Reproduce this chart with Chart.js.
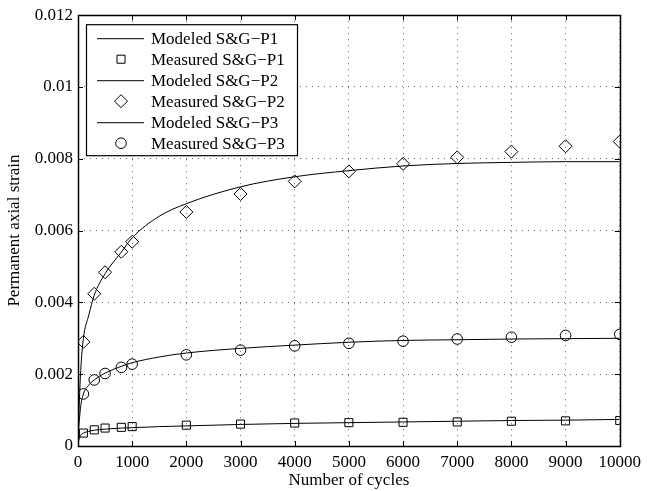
<!DOCTYPE html>
<html>
<head>
<meta charset="utf-8">
<script src="https://cdn.jsdelivr.net/npm/chart.js@4/dist/chart.umd.min.js"></script>
<style>
  html, body { margin: 0; padding: 0; background: #fff; }
  #wrap { width: 647px; height: 491px; }
</style>
</head>
<body>
<div id="wrap"><canvas id="myChart" width="647" height="491"></canvas></div>
<script>
// donnees
const modelCycles = [0, 50, 100, 200, 300, 500, 800, 1000, 1500, 2000, 3000, 4000, 5000, 6000, 7000, 8000, 9000, 10000];
const modelP1 = [0.0001, 0.0003, 0.00036, 0.00041, 0.00044, 0.00047, 0.0005, 0.00051, 0.00054, 0.00056, 0.0006, 0.00063, 0.00065, 0.00067, 0.00069, 0.00071, 0.00072, 0.00074];
const modelP2 = [0.0003, 0.0021, 0.003, 0.00365, 0.0042, 0.0048, 0.0054, 0.0058, 0.0064, 0.00675, 0.00722, 0.0075, 0.00767, 0.0078, 0.00787, 0.0079, 0.00792, 0.00792];
const modelP3 = [0.0003, 0.0011, 0.00145, 0.0017, 0.00184, 0.00203, 0.00222, 0.00232, 0.00248, 0.00259, 0.00272, 0.00281, 0.00289, 0.00294, 0.00296, 0.00298, 0.00299, 0.003];

const measCycles = [100, 300, 500, 800, 1000, 2000, 3000, 4000, 5000, 6000, 7000, 8000, 9000, 10000];
const measP1 = [0.00036, 0.00045, 0.0005, 0.00052, 0.00054, 0.00058, 0.00061, 0.00064, 0.00065, 0.00066, 0.00067, 0.00069, 0.0007, 0.00071];
const measP2 = [0.0029, 0.00424, 0.00484, 0.00541, 0.00569, 0.00652, 0.00702, 0.00737, 0.00765, 0.00786, 0.00804, 0.0082, 0.00835, 0.00848];
const measP3 = [0.00145, 0.00184, 0.00202, 0.00219, 0.00228, 0.00254, 0.00267, 0.00279, 0.00286, 0.00292, 0.00298, 0.00303, 0.00308, 0.00311];

const yTickLabels = ['0', '0.002', '0.004', '0.006', '0.008', '0.01', '0.012'];
const xTickLabels = ['0', '1000', '2000', '3000', '4000', '5000', '6000', '7000', '8000', '9000', '10000'];

const FONT = 'Liberation Serif, Times New Roman, serif';

function pts(xs, ys) {
  return xs.map(function(x, i) { return { x: x, y: ys[i] }; });
}

function modelSet(label, ys) {
  return {
    label: label,
    data: pts(modelCycles, ys),
    showLine: true,
    borderColor: '#000',
    borderWidth: 1,
    pointRadius: 0,
    cubicInterpolationMode: 'monotone',
    fill: false
  };
}

function measSet(label, ys, style, r) {
  return {
    label: label,
    data: pts(measCycles, ys),
    showLine: false,
    pointStyle: style,
    pointRadius: r,
    pointBorderColor: '#000',
    pointBackgroundColor: 'rgba(0,0,0,0)',
    pointBorderWidth: 1,
    borderColor: '#000'
  };
}

// cadre + graduations vers l'interieur
const framePlugin = {
  id: 'frame',
  afterDatasetsDraw(chart) {
    const ctx = chart.ctx;
    const a = chart.chartArea;
    const xs = chart.scales.x, ys = chart.scales.y;
    ctx.save();
    ctx.strokeStyle = '#000';
    ctx.lineWidth = 1;
    ctx.beginPath();
    xs.ticks.forEach(function(t) {
      const px = Math.round(xs.getPixelForValue(t.value)) + 0.5;
      ctx.moveTo(px, a.bottom); ctx.lineTo(px, a.bottom - 5);
      ctx.moveTo(px, a.top); ctx.lineTo(px, a.top + 5);
    });
    ys.ticks.forEach(function(t) {
      const py = Math.round(ys.getPixelForValue(t.value)) + 0.5;
      ctx.moveTo(a.left, py); ctx.lineTo(a.left + 5, py);
      ctx.moveTo(a.right, py); ctx.lineTo(a.right - 5, py);
    });
    ctx.stroke();
    ctx.lineWidth = 1.5;
    ctx.strokeRect(Math.round(a.left) + 0.5, Math.round(a.top) + 0.5, Math.round(a.right - a.left), Math.round(a.bottom - a.top));
    ctx.restore();
  }
};

// legende dans le graphe, en haut a gauche
const legendPlugin = {
  id: 'innerLegend',
  afterDraw(chart) {
    const ctx = chart.ctx;
    const a = chart.chartArea;
    const bx = a.left + 8, by = a.top + 9, bw = 211, bh = 131;
    ctx.save();
    ctx.fillStyle = '#fff';
    ctx.fillRect(bx, by, bw, bh);
    ctx.strokeStyle = '#000';
    ctx.lineWidth = 1.2;
    ctx.strokeRect(bx + 0.5, by + 0.5, bw, bh);
    ctx.font = '17px ' + FONT;
    ctx.textBaseline = 'middle';
    ctx.fillStyle = '#000';
    chart.data.datasets.forEach(function(ds, i) {
      const cy = by + 14 + i * 21;
      const cx = bx + 35;
      ctx.lineWidth = 1;
      ctx.beginPath();
      if (ds.showLine) {
        ctx.moveTo(bx + 11, cy + 0.5);
        ctx.lineTo(bx + 58, cy + 0.5);
      } else if (ds.pointStyle === 'rect') {
        const s = ds.pointRadius * Math.SQRT1_2;
        ctx.rect(cx - s, cy - s, 2 * s, 2 * s);
      } else if (ds.pointStyle === 'rectRot') {
        const r = ds.pointRadius;
        ctx.moveTo(cx, cy - r); ctx.lineTo(cx + r, cy); ctx.lineTo(cx, cy + r); ctx.lineTo(cx - r, cy); ctx.closePath();
      } else {
        ctx.arc(cx, cy, ds.pointRadius, 0, Math.PI * 2);
      }
      ctx.stroke();
      ctx.fillText(ds.label, bx + 65, cy + 1);
    });
    ctx.restore();
  }
};

const ctx = document.getElementById('myChart').getContext('2d');
const myChart = new Chart(ctx, {
  type: 'scatter',
  data: {
    datasets: [
      modelSet('Modeled S&G\u2212P1', modelP1),
      measSet('Measured S&G\u2212P1', measP1, 'rect', 5.7),
      modelSet('Modeled S&G\u2212P2', modelP2),
      measSet('Measured S&G\u2212P2', measP2, 'rectRot', 6.5),
      modelSet('Modeled S&G\u2212P3', modelP3),
      measSet('Measured S&G\u2212P3', measP3, 'circle', 5.3)
    ]
  },
  options: {
    responsive: false,
    animation: false,
    layout: { padding: { top: 14, right: 23, left: 0, bottom: 0 } },
    plugins: {
      legend: { display: false },
      tooltip: { enabled: false }
    },
    scales: {
      x: {
        type: 'linear',
        min: 0,
        max: 10000,
        afterFit: function(s) { s.height = 45; },
        ticks: {
          stepSize: 1000,
          padding: 6,
          maxRotation: 0,
          color: '#000',
          font: { family: FONT, size: 17 },
          callback: function(v, i) { return xTickLabels[i]; }
        },
        grid: { color: '#666', lineWidth: 1, drawTicks: false },
        border: { display: false, dash: [1, 5] },
        title: {
          display: true,
          text: 'Number of cycles',
          color: '#000',
          font: { family: FONT, size: 17 },
          padding: { top: 0, bottom: 0 }
        }
      },
      y: {
        type: 'linear',
        min: 0,
        max: 0.012,
        afterFit: function(s) { s.width = 78; },
        ticks: {
          stepSize: 0.002,
          padding: 5,
          color: '#000',
          font: { family: FONT, size: 17 },
          callback: function(v, i) { return yTickLabels[i]; }
        },
        grid: { color: '#666', lineWidth: 1, drawTicks: false },
        border: { display: false, dash: [1, 5] },
        title: {
          display: true,
          text: 'Permanent axial strain',
          color: '#000',
          font: { family: FONT, size: 17 },
          padding: { top: 4, bottom: 4 }
        }
      }
    }
  },
  plugins: [framePlugin, legendPlugin]
});
</script>
</body>
</html>
